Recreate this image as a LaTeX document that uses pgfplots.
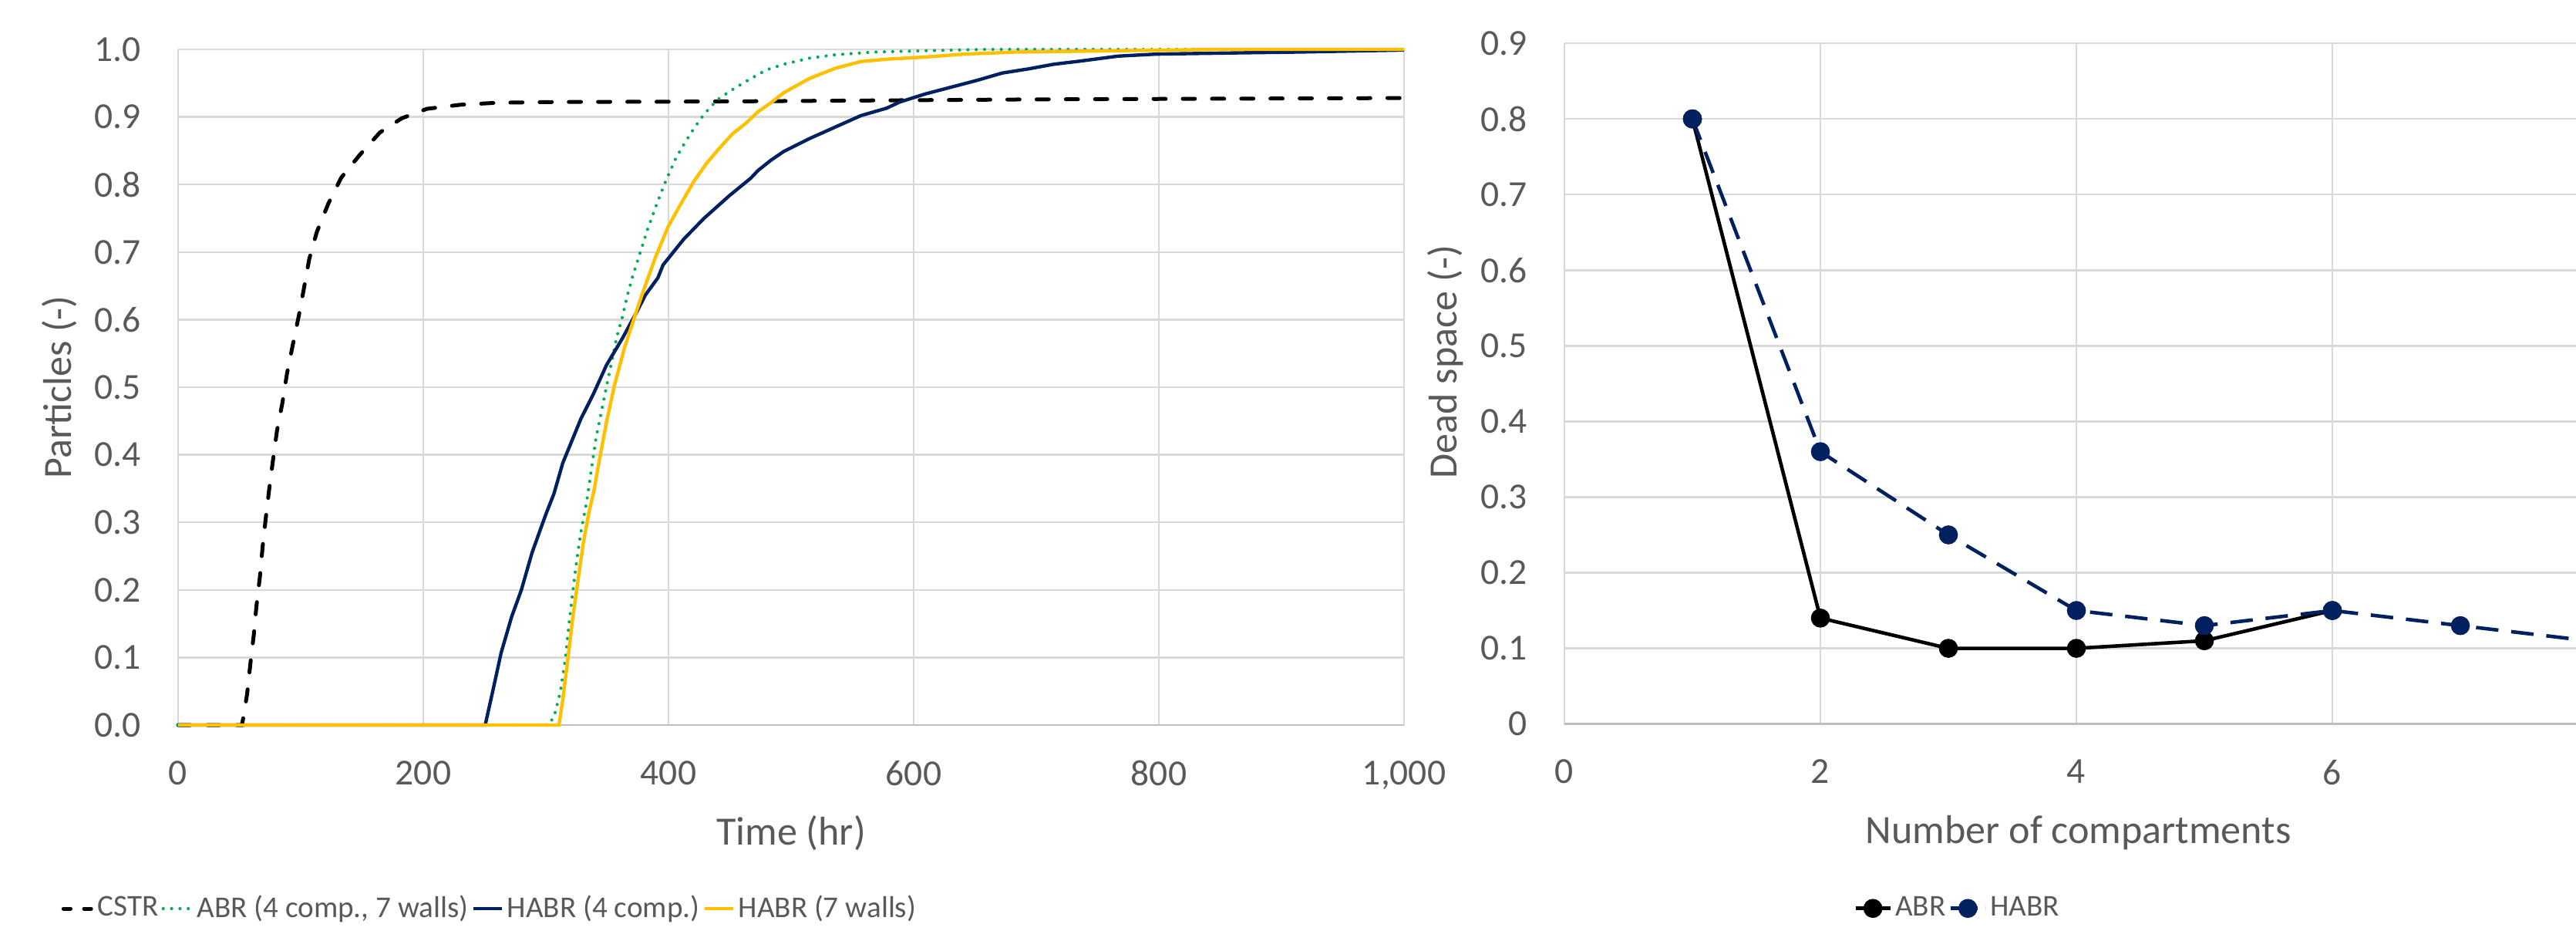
\documentclass[border=0pt]{standalone}
\usepackage{fontspec}
\setmainfont{Carlito}
\usepackage{pgfplots}
\pgfplotsset{compat=1.18}

\definecolor{txtgray}{HTML}{595959}
\definecolor{gridgray}{HTML}{D9D9D9}
\definecolor{axisgray}{HTML}{BFBFBF}
\definecolor{abrgreen}{HTML}{00B050}
\definecolor{navy}{HTML}{002060}
\definecolor{gold}{HTML}{FFC000}

\newcommand{\tickfont}{\fontsize{11.4}{13}\selectfont}
\newcommand{\titlefont}{\fontsize{12.5}{15}\selectfont}
\newcommand{\legfont}{\fontsize{9.4}{12}\selectfont}

\pgfplotsset{
  xlsx/.style={
    scale only axis,
    clip=false,
    grid=major,
    grid style={gridgray, line width=0.6pt},
    axis line style={draw=none},
    tick style={draw=none},
    extra y ticks={0},
    extra y tick labels={},
    extra y tick style={grid=major, grid style={axisgray, line width=0.7pt}},
    /pgf/number format/assume math mode=true,
    every tick label/.append style={font=\tickfont, text=txtgray},
    xticklabel style={yshift=-7.6pt},
    yticklabel style={xshift=-8.0pt},
    label style={font=\titlefont, text=txtgray},
    legend cell align=left,
    legend style={draw=none, fill=none, inner sep=0pt, font=\legfont,
      text=txtgray, legend columns=-1,
      nodes={inner sep=1pt},
      /tikz/every even column/.append style={column sep=0pt}},
  },
}

\begin{document}
\begin{tikzpicture}
\path[use as bounding box] (0,0) rectangle (801.84pt,292.56pt);

%% left: particles over time
\begin{axis}[
  xlsx,
  at={(55.44pt,66.96pt)}, anchor=south west,
  width=381.6pt, height=210.24pt,
  xmin=0, xmax=1000, ymin=0, ymax=1,
  xtick={0,200,400,600,800,1000},
  xticklabels={0,200,400,600,800,{1,000}},
  ytick={0,0.1,0.2,0.3,0.4,0.5,0.6,0.7,0.8,0.9,1},
  yticklabels={0.0,0.1,0.2,0.3,0.4,0.5,0.6,0.7,0.8,0.9,1.0},
  xlabel={Time (hr)},
  ylabel={Particles (-)},
  xlabel style={at={(axis description cs:0.5,-0.16)}, anchor=center},
  ylabel style={at={(axis description cs:-0.0969,0.5)}, anchor=center},
  legend style={at={(axis description cs:-0.0956,-0.2717)}, anchor=west},
  legend image code/.code={\draw[#1] (0pt,0pt) -- (9pt,0pt);},
]
\addplot[black, line width=1.2pt, line cap=round, dash pattern=on 3.8pt off 5.3pt,
  legend image post style={dash pattern=on 2.2pt off 4.2pt}] coordinates {
  (0,0) (52,0) (53,0.009) (56.3,0.046) (58.9,0.09) (61.7,0.133) (63.9,0.176)
  (66.7,0.219) (68.9,0.263) (71.5,0.306) (74.3,0.349) (77.4,0.392) (80.6,0.435)
  (85.1,0.477) (88.8,0.52) (93.6,0.563) (98.6,0.607) (102,0.64) (107,0.69)
  (113.2,0.73) (122.6,0.772) (133,0.81) (147.8,0.843) (164.6,0.877)
  (182.4,0.898) (203,0.912) (230,0.918) (260,0.921) (300,0.922) (450,0.923)
  (700,0.926) (1000,0.928)
};
\addplot[abrgreen, line width=1pt, line cap=round, dash pattern=on 0pt off 2.6pt] coordinates {
  (0,0) (301,0) (306.5,0.011) (311.8,0.049) (316,0.099) (319,0.152) (322,0.198)
  (325.4,0.247) (328.5,0.285) (333.2,0.33) (337,0.377) (341,0.426) (345.3,0.464)
  (349.5,0.502) (353.6,0.537) (357.9,0.575) (362,0.601) (366.2,0.634)
  (370.4,0.662) (376.7,0.698) (383,0.734) (390.4,0.771) (397.7,0.805)
  (406,0.839) (413.4,0.862) (420.8,0.883) (429,0.904) (439.6,0.925) (450,0.938)
  (462.7,0.952) (473.2,0.963) (480.5,0.970) (494.1,0.978) (515,0.987)
  (536,0.992) (567.5,0.996) (609.4,0.998) (660,1.0) (1000,1.0)
};
\addplot[navy, line width=1.05pt] coordinates {
  (0,0) (250.5,0) (257,0.053) (263.5,0.107) (272,0.16) (280,0.20) (288.7,0.255)
  (297,0.297) (300.2,0.313) (306.5,0.342) (313.8,0.388) (328.5,0.453)
  (339,0.491) (349.5,0.533) (362,0.571) (374.6,0.613) (381,0.636) (391.4,0.662)
  (395.6,0.681) (412.4,0.719) (429,0.75) (450,0.784) (466.9,0.809)
  (473.2,0.821) (483.6,0.836) (494.1,0.849) (515.1,0.868) (536,0.885)
  (557,0.902) (578,0.913) (588.5,0.922) (609.4,0.934) (630.4,0.944)
  (651.4,0.954) (672.3,0.965) (693.3,0.971) (714.3,0.978) (735.2,0.9825)
  (766.7,0.990) (798,0.993) (871.5,0.995) (913,0.996) (1000,0.999)
};
\addplot[gold, line width=1.05pt] coordinates {
  (0,0) (310.7,0) (313.8,0.038) (318,0.099) (322,0.16) (326.4,0.217)
  (330.6,0.27) (334.8,0.312) (339,0.345) (343.2,0.388) (349.5,0.449)
  (355.8,0.502) (364.2,0.559) (372.5,0.605) (378.8,0.639) (389.3,0.692)
  (399.8,0.738) (410.3,0.772) (420.8,0.805) (431.3,0.832) (441.7,0.854)
  (452.2,0.875) (462.7,0.89) (473.2,0.908) (483.6,0.921) (494.1,0.936)
  (515.1,0.957) (536,0.972) (557,0.982) (578,0.9855) (609.4,0.9886)
  (640.9,0.993) (682.8,0.996) (766.7,0.998) (850,1.0) (1000,1.0)
};
\legend{CSTR, ABR (4 comp.{,} 7 walls), HABR (4 comp.), HABR (7 walls)}
\end{axis}

%% right: dead space against number of compartments
\begin{axis}[
  xlsx,
  at={(486.96pt,67.3pt)}, anchor=south west,
  width=318.72pt, height=211.8pt,
  xmin=0, xmax=8, ymin=0, ymax=0.9,
  xtick={0,2,4,6,8},
  ytick={0,0.1,0.2,0.3,0.4,0.5,0.6,0.7,0.8,0.9},
  yticklabels={0,0.1,0.2,0.3,0.4,0.5,0.6,0.7,0.8,0.9},
  xlabel={Number of compartments},
  ylabel={Dead space (-)},
  xlabel style={at={(axis description cs:0.502,-0.16)}, anchor=center},
  ylabel style={at={(axis description cs:-0.116,0.532)}, anchor=center},
  legend style={at={(axis description cs:0.282,-0.271)}, anchor=west},
  legend image code/.code={\draw[mark repeat=2, mark phase=2, #1]
    plot coordinates {(0pt,0pt) (5.4pt,0pt) (10.8pt,0pt)};},
]
\addplot[black, line width=1.1pt, mark=*, mark size=2.4pt,
  mark options={solid, fill=black}] coordinates {
  (1,0.80) (2,0.14) (3,0.10) (4,0.10) (5,0.11) (6,0.15)
};
\addplot[navy, line width=1.1pt, dash pattern=on 7pt off 4pt, mark=*, mark size=2.4pt,
  mark options={solid, fill=navy},
  legend image post style={dash pattern=on 3pt off 2.4pt}] coordinates {
  (1,0.80) (2,0.36) (3,0.25) (4,0.15) (5,0.13) (6,0.15) (7,0.13) (8,0.11)
};
\legend{ABR, HABR}
\end{axis}
\end{tikzpicture}
\end{document}
